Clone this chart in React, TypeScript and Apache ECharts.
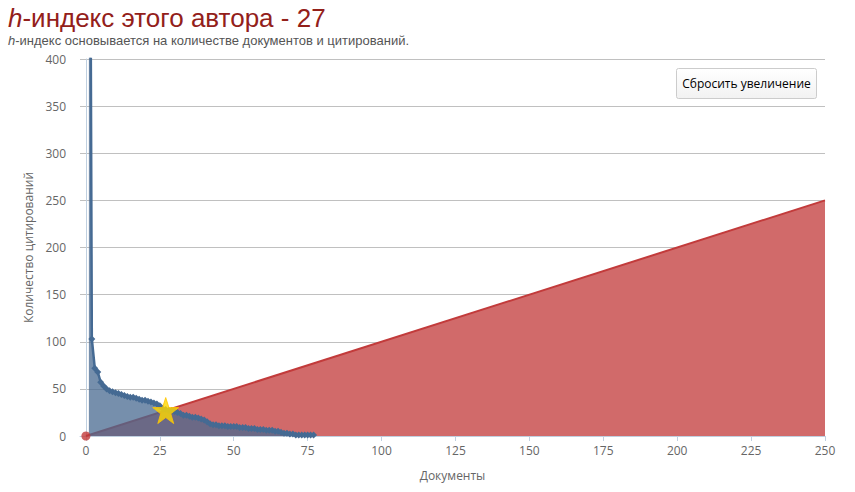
import React, { useEffect, useRef } from "react";
import * as echarts from "echarts";

// Citations per document, sorted in descending order (document #1 .. #77)
const citations: number[] = [
  1000, 103, 72, 68, 57, 53, 50, 48, 47, 46, 45, 44, 43, 42, 41, 41, 40, 39, 38, 38,
  37, 36, 35, 34, 32, 29, 28, 27, 27, 26, 25, 24, 22, 22, 21, 20, 20, 19, 18, 17,
  15, 13, 12, 12, 11, 11, 11, 10, 10, 10, 10, 9, 9, 9, 8, 8, 8, 7, 7, 7,
  6, 6, 6, 5, 5, 4, 3, 3, 2, 2, 1, 1, 1, 1, 1, 1, 1,
];
const hIndex = 27;
const diagonal: number[][] = [
  [0, 0],
  [250, 250],
];
const xTicks: number[] = [0, 25, 50, 75, 100, 125, 150, 175, 200, 225, 250];
const titleText = "{i|h}-индекс этого автора - " + hIndex;
const subtitleText = "{i|h}-индекс основывается на количестве документов и цитирований.";
const xName = "Документы";
const yName = "Количество цитирований";
const resetLabel = "Сбросить увеличение";

const STAR =
  "path://M50,0 L61.8,35.1 L98.1,35.1 L68.8,56.8 L79.4,91 L50,70 L20.6,91 L31.2,56.8 L1.9,35.1 L38.2,35.1 Z";

export default function App() {
  const ref = useRef<HTMLDivElement>(null);
  useEffect(() => {
    if (!ref.current) return;
    const chart = echarts.init(ref.current, null, { renderer: "svg" });
    const docData = citations.map((c, i) => [i + 1, c]);
    const axisFont = '"Open Sans", "Liberation Sans", Arial, sans-serif';
    const titleFont = '"Liberation Sans", Arial, sans-serif';
    chart.setOption({
      animation: false,
      backgroundColor: "#ffffff",
      title: {
        text: titleText,
        subtext: subtitleText,
        left: 3,
        top: 0,
        itemGap: 3,
        textStyle: {
          fontFamily: titleFont,
          fontSize: 26,
          fontWeight: "normal",
          color: "#93201A",
          rich: {
            i: {
              fontFamily: titleFont,
              fontSize: 26,
              fontStyle: "italic",
              color: "#93201A",
            },
          },
        },
        subtextStyle: {
          fontFamily: titleFont,
          fontSize: 13,
          color: "#555555",
          rich: {
            i: {
              fontFamily: titleFont,
              fontSize: 13,
              fontStyle: "italic",
              color: "#555555",
            },
          },
        },
      },
      grid: { left: 80, right: 30, top: 59, bottom: 56, containLabel: false },
      xAxis: {
        type: "value",
        min: -2,
        max: 250,
        name: xName,
        nameLocation: "middle",
        nameGap: 33,
        nameTextStyle: { color: "#666666", fontSize: 12, fontFamily: axisFont },
        axisLine: { show: true, lineStyle: { color: "#C0D0E0", width: 1 } },
        axisTick: {
          show: true,
          length: 5,
          customValues: xTicks,
          lineStyle: { color: "#C0D0E0" },
        },
        axisLabel: {
          customValues: xTicks,
          color: "#666666",
          fontSize: 12,
          fontFamily: axisFont,
          margin: 8,
        },
        splitLine: { show: false },
      },
      yAxis: {
        type: "value",
        min: 0,
        max: 400,
        interval: 50,
        name: yName,
        nameLocation: "middle",
        nameGap: 46,
        nameRotate: 90,
        nameTextStyle: { color: "#666666", fontSize: 12, fontFamily: axisFont },
        axisLine: { show: true, lineStyle: { color: "#C0D0E0", width: 1 } },
        axisTick: { show: false },
        axisLabel: {
          color: "#666666",
          fontSize: 12,
          fontFamily: axisFont,
          margin: 14,
        },
        splitLine: { show: true, lineStyle: { color: "#C0C0C0", width: 1 } },
      },
      series: [
        {
          name: "h",
          type: "line",
          data: diagonal,
          showSymbol: false,
          lineStyle: { color: "#C23B3B", width: 2 },
          areaStyle: { color: "#D16A6A", opacity: 1 },
          z: 1,
        },
        {
          name: "docs",
          type: "line",
          data: docData,
          symbol: "diamond",
          symbolSize: 7,
          showSymbol: true,
          showAllSymbol: true,
          itemStyle: { color: "#456A93" },
          lineStyle: { color: "#456A93", width: 2.5 },
          areaStyle: { color: "rgb(72,106,144)", opacity: 0.75 },
          z: 2,
        },
        {
          name: "origin",
          type: "scatter",
          data: [[0, 0]],
          symbol: "circle",
          symbolSize: 9,
          clip: false,
          itemStyle: { color: "#C23B3B" },
          z: 4,
        },
        {
          name: "star",
          type: "scatter",
          data: [[hIndex, hIndex]],
          symbol: STAR,
          symbolSize: 26,
          clip: false,
          itemStyle: { color: "#FFD800", borderColor: "#FFC400", borderWidth: 1 },
          z: 5,
        },
      ],
      graphic: [
        {
          type: "group",
          left: 676,
          top: 68,
          children: [
            {
              type: "rect",
              shape: { x: 0, y: 0, width: 140, height: 30, r: 2 },
              style: {
                fill: new echarts.graphic.LinearGradient(0, 0, 0, 1, [
                  { offset: 0, color: "#FFFFFF" },
                  { offset: 1, color: "#F2F2F2" },
                ]),
                stroke: "#CCCCCC",
                lineWidth: 1,
              },
            },
            {
              type: "text",
              x: 70,
              y: 15,
              style: {
                text: resetLabel,
                fontFamily: axisFont,
                fontSize: 12,
                fill: "#000000",
                align: "center",
                verticalAlign: "middle",
              },
            },
          ],
        },
      ],
    });
    return () => chart.dispose();
  }, []);
  return (
    <div
      ref={ref}
      style={{ position: "absolute", left: 0, top: 0, width: 855, height: 492 }}
    />
  );
}
